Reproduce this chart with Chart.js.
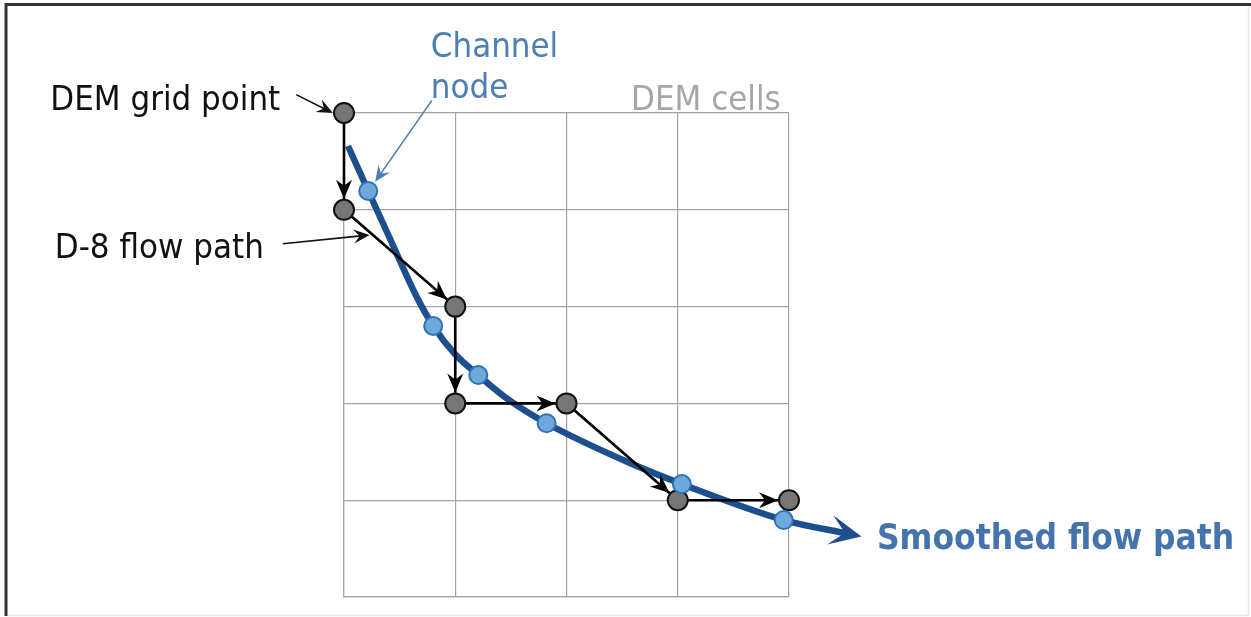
<!DOCTYPE html>
<html>
<head>
<meta charset="utf-8">
<title>Smoothed flow path</title>
<script src="https://cdn.jsdelivr.net/npm/chart.js@4.4.1/dist/chart.umd.min.js"></script>
<style>
  html, body { margin: 0; padding: 0; background: #fff; }
  #wrap { width: 1251px; height: 617px; }
</style>
</head>
<body>
<div id="wrap"><canvas id="flowChart" width="1251" height="617"></canvas></div>
<script>
// DEM cells, counted in cell units (y goes down)
const cellCols = 4;
const cellRows = 5;

// DEM grid points on the D-8 flow path
const d8X = [0, 0, 1, 1, 2, 3, 4];
const d8Y = [0, 1, 2, 3, 3, 4, 4];

// channel nodes on the smoothed path
const nodeX = [0.218, 0.802, 1.207, 1.821, 3.037, 3.953];
const nodeY = [0.806, 2.200, 2.707, 3.205, 3.833, 4.205];

// smoothed flow path (start .. arrow)
const pathX = [0.036, 0.218, 0.431, 0.653, 0.802, 0.997, 1.207, 1.447, 1.821, 2.570, 3.037, 3.953, 4.546];
const pathY = [0.341, 0.806, 1.343, 1.898, 2.200, 2.490, 2.707, 2.934, 3.205, 3.616, 3.833, 4.205, 4.349];

// texts
const labelTexts = ['DEM grid point', 'D-8 flow path', 'Channel', 'node', 'DEM cells', 'Smoothed flow path'];

// 📌 annotation layout (cell units)
const FONT = "'DejaVu Sans Condensed', 'DejaVu Sans', sans-serif";
const labelLayout = [
  { x: -2.64, y: -0.03, color: '#111', font: '34.5px ' + FONT },
  { x: -2.60, y: 1.50, color: '#111', font: '34.5px ' + FONT },
  { x: 0.78, y: -0.58, color: '#4d7fb4', font: '34.5px ' + FONT },
  { x: 0.78, y: -0.15, color: '#4d7fb4', font: '34.5px ' + FONT },
  { x: 2.58, y: -0.03, color: '#a6a6a6', font: '34.5px ' + FONT },
  { x: 4.79, y: 4.50, color: '#4473ad', font: 'bold 35px ' + FONT }
];
const pointerLayout = [
  { from: [-0.43, -0.19], to: [-0.10, 0.00], color: '#111' },
  { from: [0.79, -0.13], to: [0.28, 0.71], color: '#4d7fb4' },
  { from: [-0.55, 1.35], to: [0.23, 1.26], color: '#111' }
];

function arrowHead(ctx, tipX, tipY, angle, len, halfW, notch, color) {
  ctx.save();
  ctx.translate(tipX, tipY);
  ctx.rotate(angle);
  ctx.beginPath();
  ctx.moveTo(0, 0);
  ctx.lineTo(-len, -halfW);
  ctx.lineTo(-notch, 0);
  ctx.lineTo(-len, halfW);
  ctx.closePath();
  ctx.fillStyle = color;
  ctx.fill();
  ctx.restore();
}

const diagramPlugin = {
  id: 'diagram',
  beforeDraw(chart) {
    const ctx = chart.ctx;
    ctx.save();
    ctx.fillStyle = '#fff';
    ctx.fillRect(0, 0, chart.width, chart.height);
    // frame
    ctx.strokeStyle = '#e6e6e6';
    ctx.lineWidth = 1.5;
    ctx.beginPath();
    ctx.moveTo(1248.5, 4); ctx.lineTo(1248.5, 615.5); ctx.lineTo(6, 615.5);
    ctx.stroke();
    ctx.strokeStyle = '#333';
    ctx.lineWidth = 3;
    ctx.beginPath();
    ctx.moveTo(6, 616); ctx.lineTo(6, 4.5); ctx.lineTo(1251, 4.5);
    ctx.stroke();
    ctx.restore();
  },
  afterDatasetDraw(chart, args) {
    const ctx = chart.ctx;
    const pts = args.meta.data;
    if (args.index === 1) {
      // D-8 arrowheads stop at the edge of the next grid point
      for (let i = 1; i < pts.length; i++) {
        const a = pts[i - 1], b = pts[i];
        const ang = Math.atan2(b.y - a.y, b.x - a.x);
        arrowHead(ctx, b.x - Math.cos(ang) * 11, b.y - Math.sin(ang) * 11, ang, 19, 8, 13, '#000');
      }
    }
    if (args.index === 2) {
      const a = pts[pts.length - 2], b = pts[pts.length - 1];
      const ang = Math.atan2(b.y - a.y, b.x - a.x);
      arrowHead(ctx, b.x + Math.cos(ang) * 12, b.y + Math.sin(ang) * 12, ang, 32, 15, 17, '#1d4f8f');
    }
  },
  afterDatasetsDraw(chart) {
    const ctx = chart.ctx;
    const xs = chart.scales.x, ys = chart.scales.y;
    ctx.save();
    pointerLayout.forEach(p => {
      const x0 = xs.getPixelForValue(p.from[0]), y0 = ys.getPixelForValue(p.from[1]);
      const x1 = xs.getPixelForValue(p.to[0]), y1 = ys.getPixelForValue(p.to[1]);
      const ang = Math.atan2(y1 - y0, x1 - x0);
      ctx.strokeStyle = p.color;
      ctx.lineWidth = 1.6;
      ctx.beginPath();
      ctx.moveTo(x0, y0);
      ctx.lineTo(x1 - Math.cos(ang) * 9, y1 - Math.sin(ang) * 9);
      ctx.stroke();
      arrowHead(ctx, x1, y1, ang, 16, 7, 10, p.color);
    });
    ctx.textAlign = 'left';
    ctx.textBaseline = 'alphabetic';
    labelTexts.forEach((t, i) => {
      const l = labelLayout[i];
      ctx.font = l.font;
      ctx.fillStyle = l.color;
      ctx.fillText(t, xs.getPixelForValue(l.x), ys.getPixelForValue(l.y));
    });
    ctx.restore();
  }
};

const toXY = (xArr, yArr) => xArr.map((x, i) => ({ x, y: yArr[i] }));

const gridColor = '#a3a3a3';

new Chart(document.getElementById('flowChart'), {
  type: 'scatter',
  data: {
    datasets: [
      {
        label: 'Channel node',
        data: toXY(nodeX, nodeY),
        showLine: false,
        pointRadius: 9,
        pointBackgroundColor: '#6fa8dc',
        pointBorderColor: '#2f73b3',
        pointBorderWidth: 2,
        order: 0,
        clip: false
      },
      {
        label: 'D-8 flow path',
        data: toXY(d8X, d8Y),
        showLine: true,
        borderColor: '#000',
        borderWidth: 2.6,
        pointRadius: 10,
        pointBackgroundColor: '#767676',
        pointBorderColor: '#111',
        pointBorderWidth: 2,
        order: 1,
        clip: false
      },
      {
        label: 'Smoothed flow path',
        data: toXY(pathX, pathY),
        showLine: true,
        borderColor: '#1d4f8f',
        borderWidth: 6.5,
        pointRadius: 0,
        cubicInterpolationMode: 'monotone',
        order: 2,
        clip: false
      }
    ]
  },
  options: {
    responsive: false,
    animation: false,
    devicePixelRatio: 1,
    layout: { padding: { left: 344, right: 462, top: 113, bottom: 20 } },
    plugins: { legend: { display: false }, tooltip: { enabled: false } },
    scales: {
      x: {
        type: 'linear', min: 0, max: cellCols,
        ticks: { display: false, stepSize: 1 },
        grid: { color: gridColor, lineWidth: 1.2, drawTicks: false },
        border: { color: gridColor, width: 1.2 }
      },
      y: {
        type: 'linear', min: 0, max: cellRows, reverse: true,
        ticks: { display: false, stepSize: 1 },
        grid: { color: gridColor, lineWidth: 1.2, drawTicks: false },
        border: { color: gridColor, width: 1.2 }
      }
    }
  },
  plugins: [diagramPlugin]
});
</script>
</body>
</html>
